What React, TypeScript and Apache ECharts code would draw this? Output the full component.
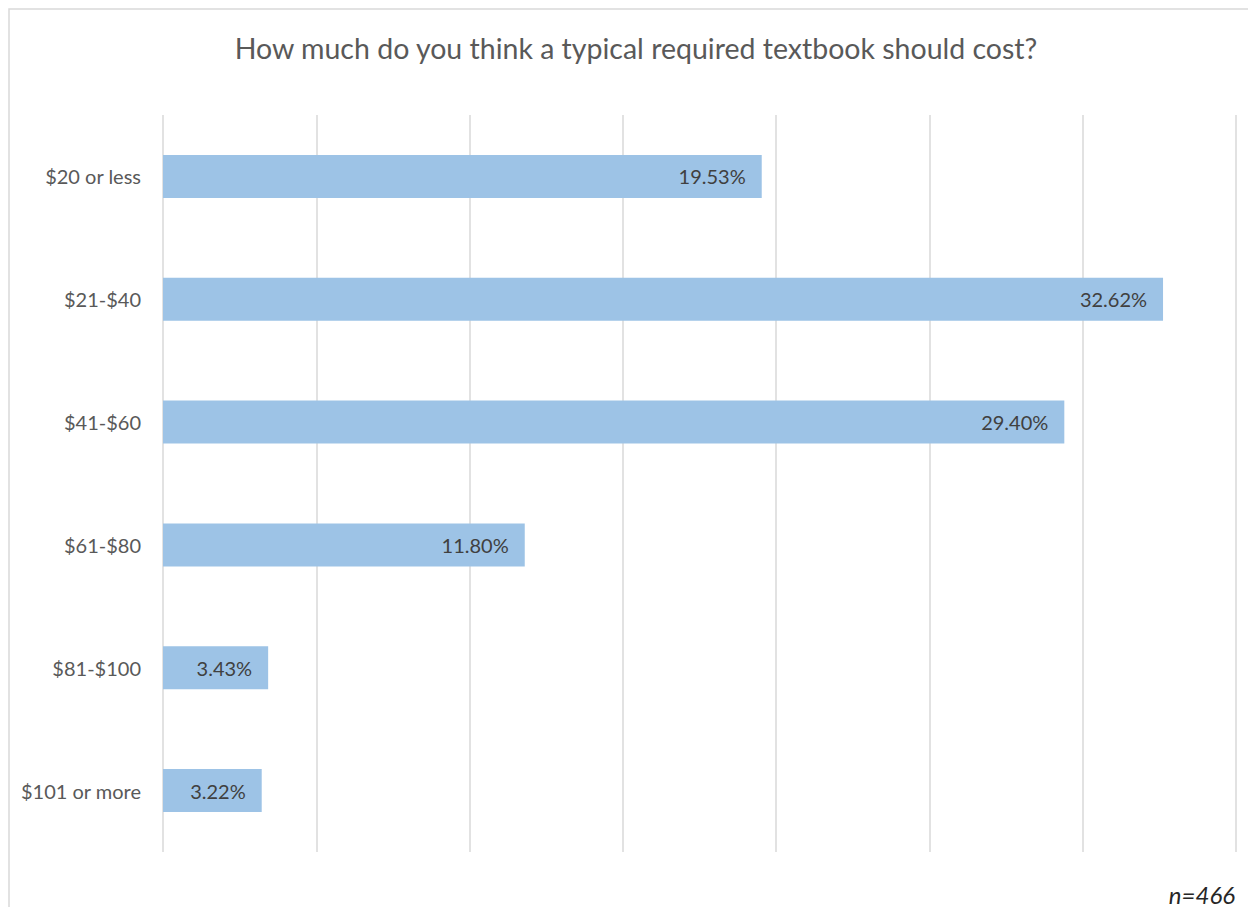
import React, { useEffect, useRef } from "react";
import * as echarts from "echarts";

const categories = ["$20 or less", "$21-$40", "$41-$60", "$61-$80", "$81-$100", "$101 or more"];
const values = [19.53, 32.62, 29.4, 11.8, 3.43, 3.22];
const titleText = "How much do you think a typical required textbook should cost?";
const noteText = "n=466";

export default function App() {
  const ref = useRef<HTMLDivElement>(null);
  useEffect(() => {
    const chart = echarts.init(ref.current!, null, { renderer: "svg" });
    chart.setOption({
      animation: false,
      backgroundColor: "#ffffff",
      title: {
        text: titleText,
        left: 631,
        top: 28,
        textAlign: "center",
        textStyle: { fontFamily: "Lato", fontSize: 28.5, fontWeight: "normal", color: "#595959" },
      },
      graphic: [
        {
          type: "rect",
          shape: { x: 9, y: 9, width: 1260, height: 1000 },
          style: { fill: "none", stroke: "#d9d9d9", lineWidth: 1.5 },
          silent: true,
        },
        {
          type: "text",
          right: 13,
          top: 882,
          style: {
            text: noteText,
            fontFamily: "Lato",
            fontStyle: "italic",
            fontSize: 24,
            fill: "#262626",
          },
        },
      ],
      grid: { left: 163, right: 12, top: 115, bottom: 55, containLabel: false },
      xAxis: {
        type: "value",
        min: 0,
        max: 35,
        interval: 5,
        axisLabel: { show: false },
        axisLine: { show: false },
        axisTick: { show: false },
        splitLine: { show: true, lineStyle: { color: "#d9d9d9", width: 1.5 } },
      },
      yAxis: {
        type: "category",
        data: categories,
        inverse: true,
        axisLine: { show: false },
        axisTick: { show: false },
        axisLabel: { margin: 22, fontFamily: "Lato", fontSize: 20, color: "#595959" },
      },
      series: [
        {
          type: "bar",
          data: values,
          barWidth: 43,
          itemStyle: { color: "#9dc3e6" },
          label: {
            show: true,
            position: "insideRight",
            distance: 16,
            formatter: (p: any) => p.value.toFixed(2) + "%",
            fontFamily: "Lato",
            fontSize: 20,
            color: "#404040",
          },
        },
      ],
    });
    return () => chart.dispose();
  }, []);
  return <div ref={ref} style={{ position: "fixed", left: 0, top: 0, width: 1248, height: 907 }} />;
}
